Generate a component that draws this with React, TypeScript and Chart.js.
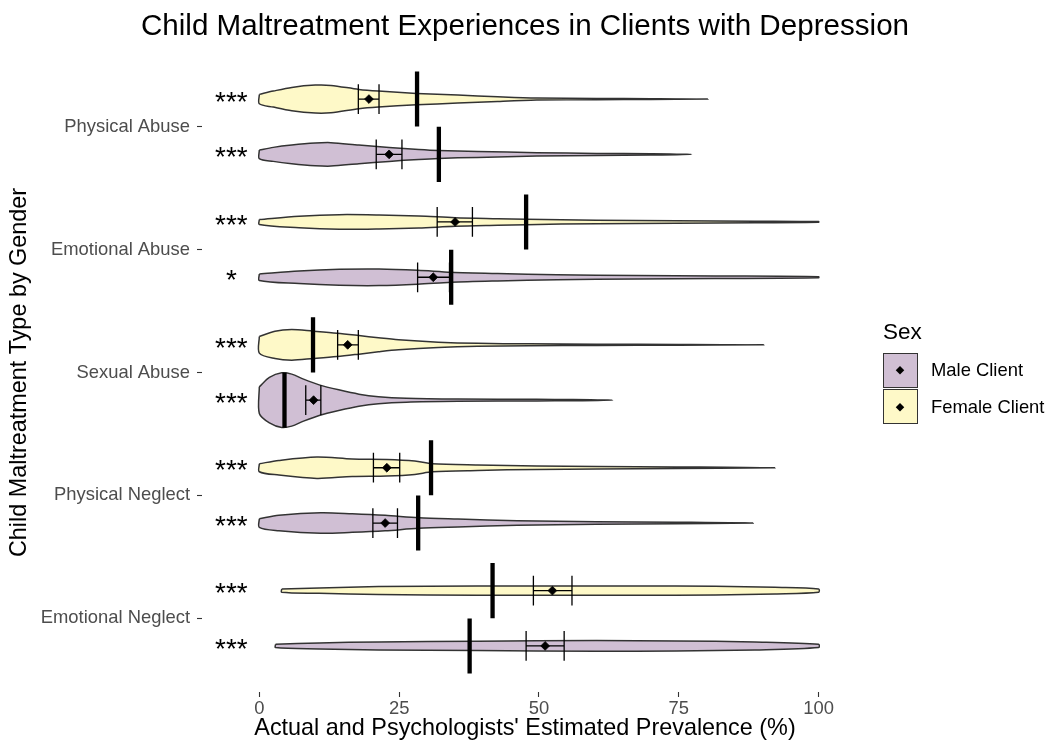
import React, { useEffect, useRef } from 'react';
import { Chart, registerables } from 'chart.js';

Chart.register(...registerables);

const FONT = '"Liberation Sans", Arial, Helvetica, sans-serif';

const TITLE = 'Child Maltreatment Experiences in Clients with Depression';
const CATEGORIES = ['Physical Abuse', 'Emotional Abuse', 'Sexual Abuse', 'Physical Neglect', 'Emotional Neglect'];
const X_TICKS = [0, 25, 50, 75, 100];
const SEXES = ['Male Client', 'Female Client'];

// Summary statistics (%), ordered as CATEGORIES
const FEMALE_MEAN = [19.6, 35.0, 15.8, 22.8, 52.4];
const FEMALE_CI_LOW = [17.7, 31.8, 14.0, 20.4, 49.0];
const FEMALE_CI_HIGH = [21.4, 38.1, 17.7, 25.1, 55.9];
const FEMALE_ACTUAL = [28.2, 47.7, 9.6, 30.7, 41.7];
const FEMALE_SIG = ['***', '***', '***', '***', '***'];

const MALE_MEAN = [23.2, 31.1, 9.7, 22.5, 51.1];
const MALE_CI_LOW = [20.9, 28.3, 8.3, 20.3, 47.7];
const MALE_CI_HIGH = [25.5, 34.0, 11.0, 24.7, 54.5];
const MALE_ACTUAL = [32.1, 34.3, 4.5, 28.4, 37.6];
const MALE_SIG = ['***', '*', '***', '***', '***'];

// Violin density profiles: [estimate %, relative density]
const FEMALE_DENSITY: number[][][] = [
  [[0, 4.7], [2.5, 8], [5.8, 11.7], [10, 14], [12.8, 13.7], [17.8, 9.7], [21.3, 8], [28.1, 5.7], [35.5, 4], [42.6, 2.3], [49.6, 1], [60.3, 0.6], [70, 0.4], [80.2, 0]],
  [[0, 2.5], [7.1, 5.7], [14.3, 7.3], [21.4, 7], [28.5, 6], [35, 4.3], [42.6, 3.3], [47.7, 2.7], [60.3, 1.7], [74.5, 1.2], [88.6, 0.8], [100, 0.4]],
  [[0, 8.3], [2.8, 13.7], [5.8, 15.3], [9.6, 13.7], [13.9, 11.7], [17.8, 9.3], [21.3, 7], [24.9, 5], [32, 2.7], [39, 1.5], [48.2, 1.0], [60.3, 0.6], [75, 0.4], [90.2, 0]],
  [[0, 4], [3.5, 7.3], [10.3, 10.7], [16.6, 8.7], [22.8, 8.3], [27.8, 6.7], [30.9, 4], [39, 2.7], [49.6, 1.7], [60.3, 1.2], [74.5, 0.8], [92.2, 0]],
  [[4, 1.7], [10.7, 2.7], [21.3, 4], [39, 4.7], [53.2, 4.7], [67.3, 4.7], [81.5, 4.3], [92.2, 3.3], [100, 1.7]],
];
const MALE_DENSITY: number[][][] = [
  [[0, 4.3], [2.5, 7], [5.8, 9.3], [10, 11.3], [12.8, 11.7], [17.8, 9.3], [23.2, 7], [28.5, 5], [32, 4], [39, 3], [49.6, 1.7], [60.3, 1], [70, 0.6], [77.3, 0]],
  [[0, 3.3], [7.1, 6.3], [14.3, 8], [21.4, 8.3], [28.3, 7], [34.3, 5], [42.6, 3.7], [53.2, 2.5], [67.3, 1.7], [81.5, 1.3], [100, 0.6]],
  [[0, 13.3], [1.8, 22.7], [4, 27.3], [5.8, 26], [7.9, 21], [10.7, 15.3], [14.2, 10.3], [17.8, 6], [21.3, 3.5], [26.3, 2], [35.5, 1.2], [49.6, 0.8], [56, 0.6], [63.2, 0]],
  [[0, 4.3], [3.5, 7.7], [11, 10.3], [16.6, 9.3], [22.5, 7.7], [28.5, 5.3], [35.5, 4], [46.1, 2.3], [60.3, 1.3], [74.5, 0.8], [88.3, 0]],
  [[2.9, 1.7], [10.7, 3], [21.3, 4], [39, 4.7], [60.3, 5.3], [74.5, 5], [88.6, 4], [100, 1.7]],
];

const SIG_X = -5;
const X_MIN = -10.25;
const X_MAX = 105.25;
const ROW_OFFSET = 0.225;
const DENSITY_SCALE = 1 / 122.9;
const CAP_HALF = 0.121;
const ACTUAL_HALF = 0.224;

const MALE_FILL = 'rgba(68, 1, 84, 0.25)';
const FEMALE_FILL = 'rgba(253, 231, 37, 0.25)';
const OUTLINE = '#333333';

type Pt = { x: number; y: number | null };

function violinPoints(knots: number[][], yc: number): Pt[] {
  const top = knots.map(([v, d]) => ({ x: v, y: yc - d * DENSITY_SCALE }));
  const rev = [...knots].reverse();
  const bottom = rev
    .filter((k, i) => !(i === 0 && k[1] === 0))
    .map(([v, d]) => ({ x: v, y: yc + d * DENSITY_SCALE }));
  return [...top, ...bottom, top[0]];
}

function errorBarPoints(lo: number, hi: number, yc: number): Pt[] {
  return [
    { x: lo, y: yc - CAP_HALF }, { x: lo, y: yc + CAP_HALF }, { x: lo, y: null },
    { x: lo, y: yc }, { x: hi, y: yc }, { x: hi, y: null },
    { x: hi, y: yc - CAP_HALF }, { x: hi, y: yc + CAP_HALF },
  ];
}

function buildDatasets() {
  const ds: any[] = [];
  const groups = [
    { dens: FEMALE_DENSITY, mean: FEMALE_MEAN, lo: FEMALE_CI_LOW, hi: FEMALE_CI_HIGH, act: FEMALE_ACTUAL, fill: FEMALE_FILL, off: -ROW_OFFSET },
    { dens: MALE_DENSITY, mean: MALE_MEAN, lo: MALE_CI_LOW, hi: MALE_CI_HIGH, act: MALE_ACTUAL, fill: MALE_FILL, off: ROW_OFFSET },
  ];
  CATEGORIES.forEach((_, i) => {
    groups.forEach((g) => {
      const yc = i + 1 + g.off;
      ds.push({
        data: violinPoints(g.dens[i], yc),
        borderColor: OUTLINE,
        borderWidth: 1.5,
        backgroundColor: g.fill,
        fill: 'shape',
        pointRadius: 0,
        tension: 0.3,
        order: 4,
      });
      ds.push({
        data: [{ x: g.act[i], y: yc - ACTUAL_HALF }, { x: g.act[i], y: yc + ACTUAL_HALF }],
        borderColor: '#000000',
        borderWidth: 4.3,
        borderCapStyle: 'butt',
        pointRadius: 0,
        fill: false,
        tension: 0,
        order: 3,
      });
      ds.push({
        data: errorBarPoints(g.lo[i], g.hi[i], yc),
        borderColor: '#000000',
        borderWidth: 1.3,
        pointRadius: 0,
        fill: false,
        spanGaps: false,
        tension: 0,
        order: 2,
      });
      ds.push({
        data: [{ x: g.mean[i], y: yc }],
        showLine: false,
        pointStyle: 'rectRot',
        pointRadius: 4.4,
        pointBackgroundColor: '#000000',
        pointBorderColor: '#000000',
        pointBorderWidth: 0.8,
        fill: false,
        order: 1,
      });
    });
  });
  return ds;
}

const sigPlugin = {
  id: 'sigLabels',
  afterDatasetsDraw(chart: any) {
    const { ctx, scales } = chart;
    const xs = scales.x;
    const ys = scales.y;
    const size = 28;
    ctx.save();
    ctx.font = `${size}px ${FONT}`;
    ctx.fillStyle = '#000000';
    ctx.textAlign = 'center';
    ctx.textBaseline = 'alphabetic';
    CATEGORIES.forEach((_, i) => {
      const rows: [string, number][] = [
        [FEMALE_SIG[i], i + 1 - ROW_OFFSET],
        [MALE_SIG[i], i + 1 + ROW_OFFSET],
      ];
      rows.forEach(([t, v]) => {
        ctx.fillText(t, xs.getPixelForValue(SIG_X), ys.getPixelForValue(v) + size * 0.42);
      });
    });
    ctx.restore();
  },
};

const titlePlugin = {
  id: 'panelTitle',
  afterDraw(chart: any) {
    const { ctx, chartArea } = chart;
    ctx.save();
    ctx.font = `29.6px ${FONT}`;
    ctx.fillStyle = '#000000';
    ctx.textAlign = 'center';
    ctx.textBaseline = 'middle';
    ctx.fillText(TITLE, (chartArea.left + chartArea.right) / 2, 26.5);
    ctx.restore();
  },
};

export default function App() {
  const ref = useRef<HTMLCanvasElement | null>(null);

  useEffect(() => {
    if (!ref.current) return;
    Chart.defaults.font.family = FONT;
    const chart = new Chart(ref.current, {
      type: 'line',
      data: { datasets: buildDatasets() },
      options: {
        responsive: false,
        animation: false,
        events: [],
        layout: { padding: { left: 0, right: 201, top: 53, bottom: 0 } },
        plugins: {
          legend: { display: false },
          tooltip: { enabled: false },
          title: { display: false },
        },
        scales: {
          x: {
            type: 'linear',
            min: X_MIN,
            max: X_MAX,
            afterBuildTicks: (scale: any) => {
              scale.ticks = X_TICKS.map((v) => ({ value: v }));
            },
            afterFit: (scale: any) => {
              scale.height = 57;
            },
            ticks: {
              color: '#4D4D4D',
              font: { size: 18.4, family: FONT },
              padding: 1,
              maxRotation: 0,
              callback: (v: any) => String(v),
            },
            grid: { drawOnChartArea: false, drawTicks: true, tickLength: 5, tickColor: OUTLINE, tickWidth: 1.1 },
            border: { display: false },
            title: {
              display: true,
              text: "Actual and Psychologists' Estimated Prevalence (%)",
              color: '#000000',
              font: { size: 23.4, family: FONT, lineHeight: 1.2 },
              padding: { top: 0, bottom: 6.5 },
            },
          },
          y: {
            type: 'linear',
            reverse: true,
            min: 0.4,
            max: 5.6,
            afterBuildTicks: (scale: any) => {
              scale.ticks = CATEGORIES.map((_, i) => ({ value: i + 1 }));
            },
            afterFit: (scale: any) => {
              scale.width = 202;
            },
            ticks: {
              color: '#4D4D4D',
              font: { size: 18.4, family: FONT },
              padding: 7,
              callback: (v: any) => CATEGORIES[Math.round(Number(v)) - 1] ?? '',
            },
            grid: { drawOnChartArea: false, drawTicks: true, tickLength: 5, tickColor: OUTLINE, tickWidth: 1.1 },
            border: { display: false },
            title: {
              display: true,
              text: 'Child Maltreatment Type by Gender',
              color: '#000000',
              font: { size: 23.4, family: FONT, lineHeight: 1.2 },
              padding: { top: 6, bottom: 0 },
            },
          },
        },
      },
      plugins: [sigPlugin, titlePlugin],
    } as any);
    return () => chart.destroy();
  }, []);

  const legendFills = [MALE_FILL, FEMALE_FILL];
  const keyTops = [352.5, 389.3];
  const labelTops = [361.0, 398.0];

  return (
    <div style={{ position: 'fixed', left: 0, top: 0, width: 1049, height: 749, background: '#ffffff' }}>
      <canvas ref={ref} width={1049} height={749} style={{ display: 'block', position: 'absolute', left: 0, top: 0 }} />
      <div style={{ position: 'absolute', left: 883, top: 321.4, fontFamily: FONT, fontSize: 22.5, lineHeight: 1, color: '#000' }}>
        Sex
      </div>
      {SEXES.map((s, i) => (
        <React.Fragment key={s}>
          <div
            style={{
              position: 'absolute',
              left: 883,
              top: keyTops[i],
              width: 34.5,
              height: 35,
              boxSizing: 'border-box',
              border: `1.6px solid ${OUTLINE}`,
              background: legendFills[i],
            }}
          >
            <div
              style={{
                position: 'absolute',
                left: '50%',
                top: '50%',
                width: 5.5,
                height: 5.5,
                background: '#000',
                transform: 'translate(-50%, -50%) rotate(45deg)',
              }}
            />
          </div>
          <div
            style={{
              position: 'absolute',
              left: 931,
              top: labelTops[i],
              fontFamily: FONT,
              fontSize: 18.4,
              lineHeight: 1,
              color: '#000',
              whiteSpace: 'nowrap',
            }}
          >
            {s}
          </div>
        </React.Fragment>
      ))}
    </div>
  );
}
